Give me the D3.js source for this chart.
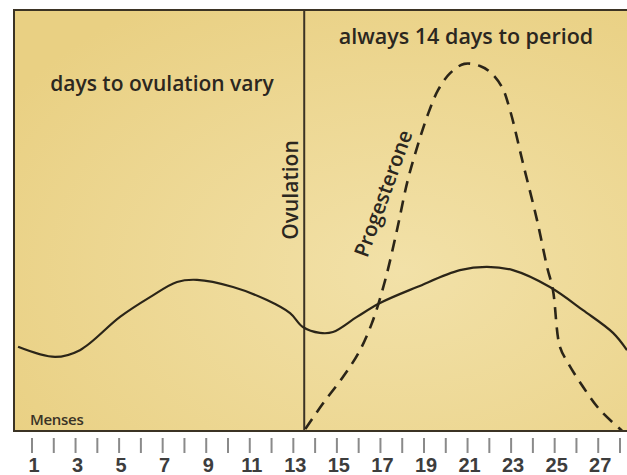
<!DOCTYPE html>
<html>
<head>
<meta charset="utf-8">
<script src="https://cdn.jsdelivr.net/npm/d3@7"></script>
<style>
  body { margin: 0; background: #fff; }
  svg { display: block; font-family: "Open Sans", "Noto Sans", sans-serif; }
</style>
</head>
<body>
<div id="chart_area"></div>
<script>
// days of the cycle shown on the ruler
var days = d3.range(1, 29);
var dayLabels = days.filter(function(d){ return d % 2 == 1; });
var ovulationDay = 13.5;

// basal body temperature (solid line)
var tempDays   = [0.36, 2.06, 3.2, 5.04, 6.42, 7.66, 8.58, 10.23, 11.79, 12.85, 13.44, 14.22, 14.82, 15.92, 16.98, 18.68, 20.65, 21.89, 23.08, 24.78, 26.3, 27.68, 28.32];
var tempValues = [20.0, 17.6, 19.2, 27.1, 31.8, 35.4, 35.9, 34.2, 31.1, 28.0, 24.7, 23.3, 23.5, 27.1, 30.4, 34.2, 38.2, 39.0, 38.2, 34.2, 28.7, 23.3, 19.2];

// progesterone (dashed line)
var progDays   = [13.55, 14.4, 15.3, 16.0, 16.6, 17.2, 17.75, 18.25, 18.75, 19.2, 19.65, 20.2, 20.85, 21.57, 22.03, 22.58, 22.95, 23.54, 24.19, 24.65, 24.92, 25.24, 25.61, 26.3, 27.08, 28.1];
var progValues = [0.5, 6.8, 13.0, 18.6, 25.5, 35.5, 47.5, 59.5, 68.5, 75.5, 81.0, 85.0, 87.2, 86.7, 85.3, 81.7, 76.2, 63.7, 50.1, 39.0, 33.5, 20.0, 16.2, 10.5, 5.0, 0];

var frame_width = 627;
var frame_height = 475;
var box = {left: 14, top: 10, bottom: 431, right: 640};

var frame = d3.select("#chart_area").append("svg")
    .attr("width", frame_width)
    .attr("height", frame_height);

var xScale = d3.scaleLinear().domain([1, 28]).range([32, 620]);
var yScale = d3.scaleLinear().domain([0, 100]).range([box.bottom, box.top]);

// paper background
var grad = frame.append("defs").append("radialGradient")
    .attr("id", "paper").attr("cx", "62%").attr("cy", "62%").attr("r", "75%");
grad.append("stop").attr("offset", "0%").attr("stop-color", "#f2e1a8");
grad.append("stop").attr("offset", "100%").attr("stop-color", "#e9d083");

frame.append("rect")
    .attr("x", box.left).attr("y", box.top)
    .attr("width", box.right - box.left).attr("height", box.bottom - box.top)
    .style("fill", "url(#paper)")
    .style("stroke", "#3b3324")
    .style("stroke-width", 2);

frame.append("clipPath").attr("id", "boxclip").append("rect")
    .attr("x", box.left + 1).attr("y", box.top + 1)
    .attr("width", box.right - box.left).attr("height", box.bottom - box.top - 2);

// ovulation divider
frame.append("line")
    .attr("x1", xScale(ovulationDay)).attr("x2", xScale(ovulationDay))
    .attr("y1", box.top).attr("y2", box.bottom)
    .style("stroke", "#3b3324").style("stroke-width", 2);

var lineGen = d3.line()
    .x(function(d){ return xScale(d[0]); })
    .y(function(d){ return yScale(d[1]); })
    .curve(d3.curveCatmullRom.alpha(0.5));

var plot = frame.append("g").attr("clip-path", "url(#boxclip)");

plot.append("path")
    .datum(d3.zip(tempDays, tempValues))
    .attr("d", lineGen)
    .style("fill", "none")
    .style("stroke", "#2b2518")
    .style("stroke-width", 2.2);

plot.append("path")
    .datum(d3.zip(progDays, progValues))
    .attr("d", lineGen)
    .style("fill", "none")
    .style("stroke", "#2b2518")
    .style("stroke-width", 2.6)
    .style("stroke-dasharray", "12,8");

// annotations
var ink = "#2b271f";
frame.append("text")
    .attr("x", 162).attr("y", 91)
    .attr("text-anchor", "middle")
    .style("font-size", "21px").style("font-weight", 600).style("fill", ink)
    .text("days to ovulation vary");

frame.append("text")
    .attr("x", 466).attr("y", 44)
    .attr("text-anchor", "middle")
    .style("font-size", "21.5px").style("font-weight", 600).style("fill", ink)
    .text("always 14 days to period");

frame.append("text")
    .attr("transform", "translate(" + (xScale(ovulationDay) - 6) + ",190) rotate(-90)")
    .attr("text-anchor", "middle")
    .style("font-size", "21px").style("font-weight", 600).style("fill", ink)
    .text("Ovulation");

frame.append("text")
    .attr("transform", "translate(390,196) rotate(-70)")
    .attr("text-anchor", "middle")
    .style("font-size", "20.5px").style("font-weight", 600).style("fill", ink)
    .text("Progesterone");

frame.append("text")
    .attr("x", 30).attr("y", 425)
    .style("font-size", "15px").style("font-weight", 600).style("fill", "#3a3326")
    .style("letter-spacing", "-0.3px")
    .text("Menses");

// day ruler
var xAxis = d3.axisBottom(xScale)
    .tickValues(days)
    .tickSize(0)
    .tickFormat("");

var ruler = frame.append("g")
    .attr("class", "x axis")
    .attr("transform", "translate(0,438)")
    .call(xAxis);
ruler.select(".domain").remove();

ruler.selectAll(".day_tick")
    .data(days)
    .enter().append("line")
    .attr("class", "day_tick")
    .attr("x1", function(d){ return xScale(d); })
    .attr("x2", function(d){ return xScale(d); })
    .attr("y1", 0).attr("y2", 15)
    .style("stroke", "#8a8a8a").style("stroke-width", 2);

ruler.selectAll(".day_label")
    .data(dayLabels)
    .enter().append("text")
    .attr("class", "day_label")
    .attr("x", function(d){ return xScale(d) + 2; })
    .attr("y", 34)
    .attr("text-anchor", "middle")
    .style("font-size", "20px").style("font-weight", 600)
    .style("fill", "#3d3d3d")
    .text(function(d){ return d; });
</script>
</body>
</html>
